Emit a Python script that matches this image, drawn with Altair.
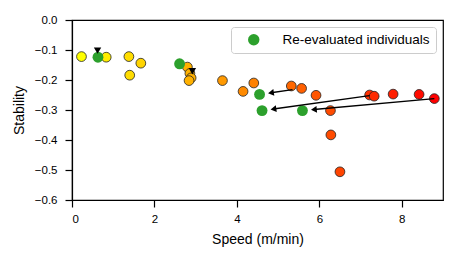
import math
import altair as alt
import pandas as pd

# ---- data ----
speed = [0.23, 0.83, 1.38, 1.67, 1.40, 2.80, 2.86, 2.89, 2.84, 3.65, 4.15, 4.41,
         5.32, 5.57, 5.92, 6.27, 6.28, 6.50, 7.22, 7.33, 7.79, 8.42, 8.79]
stability = [-0.122, -0.124, -0.122, -0.144, -0.184, -0.157, -0.178, -0.193, -0.202,
             -0.202, -0.238, -0.210, -0.220, -0.228, -0.251, -0.302, -0.383, -0.506,
             -0.250, -0.254, -0.247, -0.248, -0.262]

re_speed = [0.63, 2.61, 4.55, 4.61, 5.59]
re_stability = [-0.124, -0.146, -0.248, -0.302, -0.302]
legend_label = "Re-evaluated individuals"

arrow_from_speed = [5.35, 7.22, 8.79]
arrow_from_stability = [-0.232, -0.252, -0.262]
arrow_to_speed = [4.55, 4.61, 5.59]
arrow_to_stability = [-0.248, -0.302, -0.302]

marker_speed = [0.62, 2.92]
marker_stability = [-0.102, -0.171]

x_ticks = [0, 2, 4, 6, 8]
y_ticks = [-0.6, -0.5, -0.4, -0.3, -0.2, -0.1, 0.0]

# ---- layout / style ----
W, H = 371, 180
XMAX, YMIN = 9, -0.6
FONT = "Liberation Sans"
SHRINK = 8.0      # px gap between arrow tip and target point
HEAD = 7.0        # arrow head length in px

xs = alt.Scale(domain=[0, XMAX], nice=False, zero=False)
ys = alt.Scale(domain=[YMIN, 0], nice=False, zero=False)
x_axis = alt.Axis(values=x_ticks, title="Speed (m/min)", format="d", labelOverlap=False)
y_axis = alt.Axis(values=y_ticks, title="Stability", format=".1f", labelOverlap=False)


def X(field):
    return alt.X(field, type="quantitative", scale=xs, axis=x_axis)


def Y(field):
    return alt.Y(field, type="quantitative", scale=ys, axis=y_axis)


pts = pd.DataFrame({"speed": speed, "stability": stability})
re_pts = pd.DataFrame({"speed": re_speed, "stability": re_stability,
                       "label": [legend_label] * len(re_speed)})
marks = pd.DataFrame({"speed": marker_speed, "stability": marker_stability})

# arrows: shrink end from target, compute head position & angle in screen space
kx, ky = W / XMAX, H / (0 - YMIN)
rows = []
for fx, fy, tx, ty in zip(arrow_from_speed, arrow_from_stability,
                          arrow_to_speed, arrow_to_stability):
    dxp, dyp = (tx - fx) * kx, -(ty - fy) * ky
    L = math.hypot(dxp, dyp)
    ux, uy = dxp / L, dyp / L
    tipx, tipy = tx - SHRINK * ux / kx, ty + SHRINK * uy / ky
    hx, hy = tipx - 0.5 * HEAD * ux / kx, tipy + 0.5 * HEAD * uy / ky
    ang = math.degrees(math.atan2(dyp, dxp)) % 360
    rows.append({"speed": fx, "stability": fy, "x2": hx, "y2": hy, "ang": ang})
arrows = pd.DataFrame(rows)

base_pts = alt.Chart(pts).mark_circle(size=95, opacity=1, stroke="#222222",
                                       strokeWidth=0.8).encode(
    x=X("speed"), y=Y("stability"),
    fill=alt.Fill("speed:Q", scale=alt.Scale(domain=[min(speed), max(speed)],
                                              range=["#ffff00", "#ff0000"],
                                              interpolate="rgb"),
                  legend=None),
)

green = alt.Chart(re_pts).mark_circle(size=118, opacity=1).encode(
    x=X("speed"), y=Y("stability"),
    fill=alt.Fill("label:N", scale=alt.Scale(domain=[legend_label], range=["#2ca02c"]),
                  legend=alt.Legend(title=None, orient="top-right", offset=7,
                                    fillColor="white", strokeColor="#cccccc",
                                    cornerRadius=3, padding=6, symbolType="circle",
                                    symbolSize=130, symbolOffset=10, labelOffset=22,
                                    labelFontSize=13.5, labelFont=FONT,
                                    labelColor="black")),
)

lines = alt.Chart(arrows).mark_rule(color="black", strokeWidth=1.4).encode(
    x=X("speed"), y=Y("stability"),
    x2="x2:Q", y2="y2:Q",
)
heads = alt.Chart(arrows).mark_point(shape="triangle-right", filled=True, color="black",
                                     size=45, opacity=1).encode(
    x=X("x2"), y=Y("y2"),
    angle=alt.Angle("ang:Q", scale=None),
)
tri = alt.Chart(marks).mark_point(shape="triangle-down", filled=True, color="black",
                                  size=55, opacity=1).encode(
    x=X("speed"), y=Y("stability"),
)

chart = alt.layer(base_pts, green, lines, heads, tri).resolve_scale(
    fill="independent"
).properties(
    width=W, height=H,
    autosize=alt.AutoSizeParams(type="none"),
    padding={"left": 64, "top": 12, "right": 13, "bottom": 54},
).configure_view(
    stroke="black", strokeWidth=1.2
).configure_axis(
    grid=False, domainColor="black", domainWidth=1.2, tickColor="black",
    tickSize=7, tickWidth=1.2, labelColor="black", titleColor="black",
    labelFont=FONT, titleFont=FONT, labelFontSize=11.5, titleFontSize=14,
    titleFontWeight="normal",
).configure_axisX(labelPadding=6, titlePadding=8).configure_axisY(
    labelPadding=8, titlePadding=8
)

chart.save("out.html", embed_options={"renderer": "svg", "actions": False})
